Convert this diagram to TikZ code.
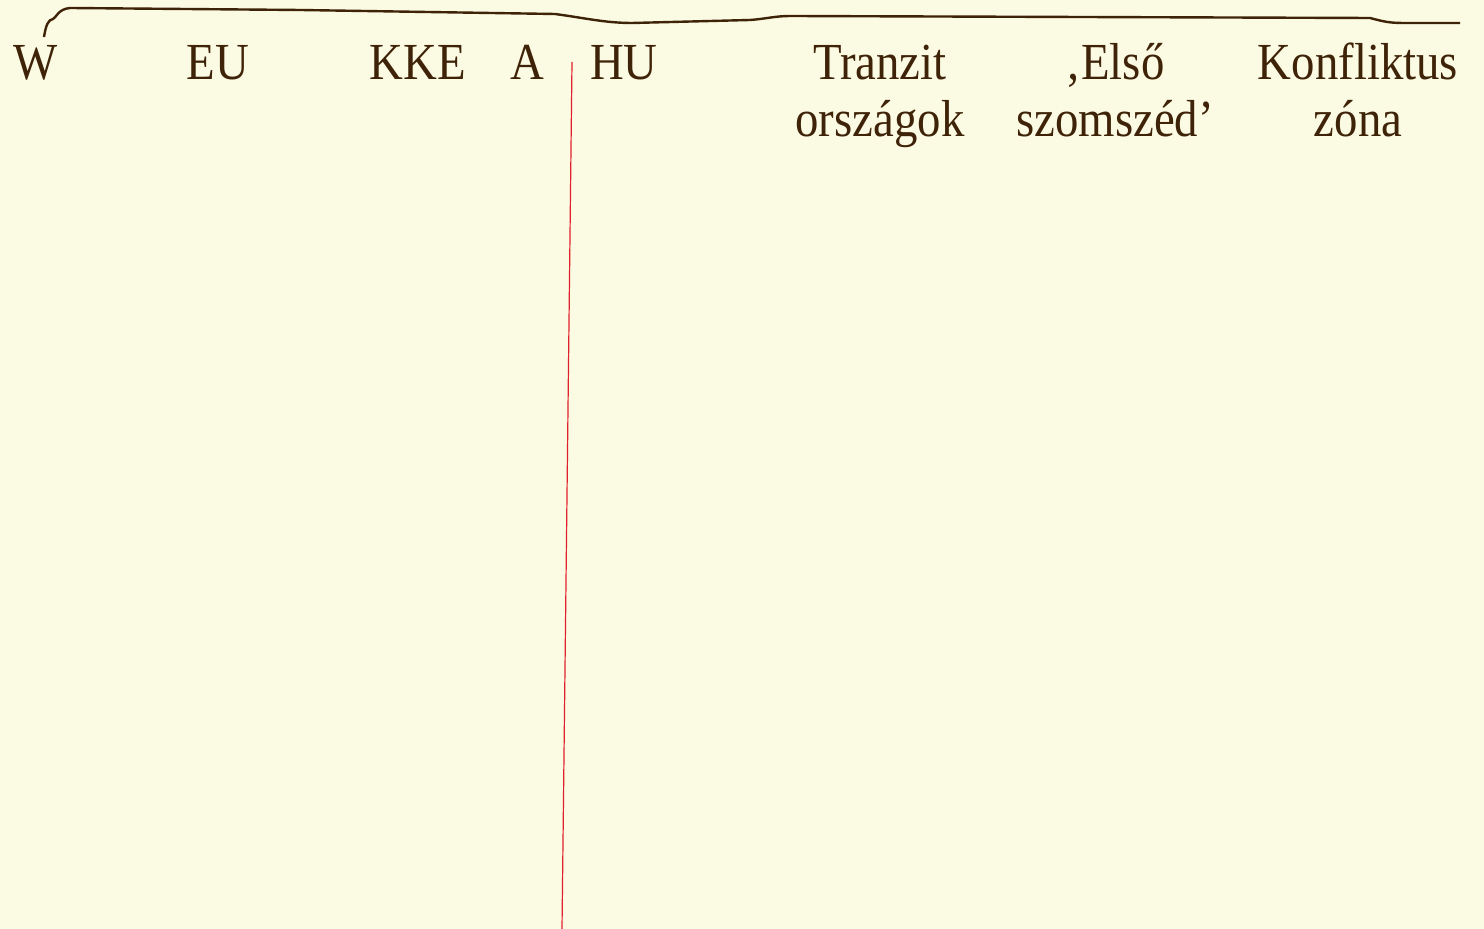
\documentclass[tikz,border=0pt]{standalone}
\usepackage{fontspec}
\setmainfont{Liberation Serif}[FakeStretch=0.9]
\definecolor{bg}{HTML}{FBFAE3}
\definecolor{ink}{HTML}{3F2308}
\definecolor{redline}{HTML}{E0202A}
\begin{document}
\begin{tikzpicture}[x=0.5pt,y=-0.5pt,
  lbl/.style={text=ink,font=\fontsize{26pt}{28pt}\selectfont,inner sep=0pt,anchor=base,align=center},
  brace/.style={draw=ink,line width=1.2pt}]
\fill[bg] (0,0) rectangle (1484,929);
\useasboundingbox (0,0) rectangle (1484,929);
% top curve
\draw[brace] (44,37) .. controls (46,25) and (48,20) .. (53,19)
  .. controls (56,18) and (58,9) .. (70,8)
  -- (300,10) -- (555,14)
  .. controls (585,18) and (605,23) .. (632,23)
  -- (750,20)
  .. controls (765,19) and (775,16) .. (790,16)
  -- (1370,18)
  .. controls (1385,22) and (1390,23) .. (1405,23)
  -- (1460,23);
% red divider
\coordinate (rtop) at (572,62);
\coordinate (rbot) at (562,929);
\draw[redline,line width=0.6pt] (rtop) -- (rbot);
% labels
\node[lbl] (w) at (36,80) {W};
\node[lbl] (eu) at (218,80) {EU};
\node[lbl] (kke) at (418,80) {KKE};
\node[lbl] (a) at (527,80) {A};
\node[lbl] (hu) at (624,80) {HU};
\node[lbl] (tr1) at (880,80) {Tranzit};
\node[lbl] (tr2) at (880,137) {országok};
\node[lbl] (el1) at (1115,80) {‚Első};
\node[lbl] (el2) at (1115,137) {szomszéd’};
\node[lbl] (ko1) at (1358,80) {Konfliktus};
\node[lbl] (ko2) at (1358,137) {zóna};
\end{tikzpicture}
\end{document}
